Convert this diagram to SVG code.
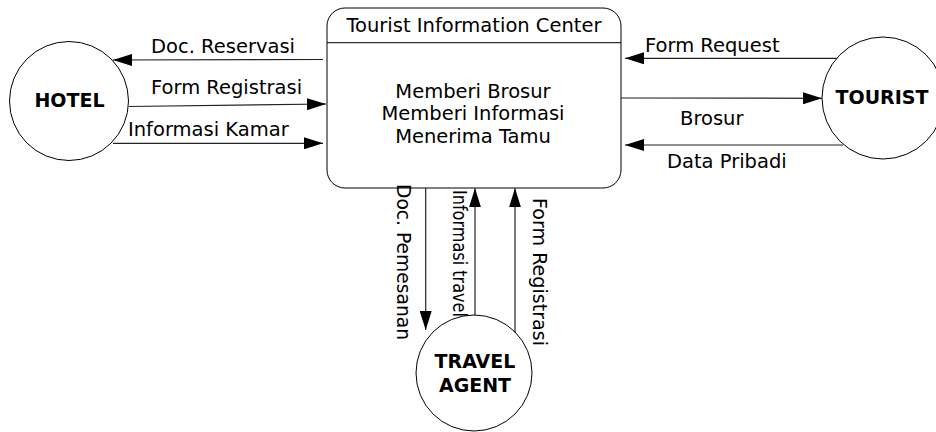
<svg xmlns="http://www.w3.org/2000/svg" width="936" height="432" viewBox="0 0 936 432">
<defs>
<marker id="arr" markerUnits="userSpaceOnUse" markerWidth="19" markerHeight="12" refX="19" refY="6" orient="auto">
<path d="M0,0 L19,6 L0,12 z" fill="#000"/>
</marker>
<style>
.t{font-family:"DejaVu Sans",Verdana,sans-serif;font-size:19.5px;fill:#000}
.b{font-family:"DejaVu Sans",Verdana,sans-serif;font-size:19px;font-weight:bold;fill:#000;text-anchor:middle}
.m{text-anchor:middle}
.c{fill:#fff;stroke:#000;stroke-width:1}
.l{fill:none;stroke:#222;stroke-width:1.2;marker-end:url(#arr)}
</style>
</defs>
<rect width="936" height="432" fill="#fff"/>
<g id="hotel">
<circle class="c" cx="69" cy="101" r="59.5"/>
<text class="b" x="69.5" y="107">HOTEL</text>
</g>
<g id="tourist">
<circle class="c" cx="883" cy="98" r="61"/>
<text class="b" x="882" y="104">TOURIST</text>
</g>
<g id="travel-agent">
<circle class="c" cx="474" cy="373" r="58"/>
<text class="b" x="475" y="368">TRAVEL</text>
<text class="b" x="475" y="392">AGENT</text>
</g>
<g id="tic">
<rect class="c" x="327" y="8" width="294" height="180" rx="18" ry="18"/>
<line x1="327" y1="42.7" x2="621" y2="42.7" stroke="#000" stroke-width="1"/>
<text class="t m" x="474" y="32">Tourist Information Center</text>
<text class="t m" x="473" y="98">Memberi Brosur</text>
<text class="t m" x="473" y="120">Memberi Informasi</text>
<text class="t m" x="473" y="143">Menerima Tamu</text>
</g>
<g id="connectors">
<line class="l" x1="323" y1="59.5" x2="113" y2="60"/>
<text class="t" x="151" y="53">Doc. Reservasi</text>
<line class="l" x1="128.7" y1="106.5" x2="326" y2="104"/>
<text class="t" x="151" y="94">Form Registrasi</text>
<line class="l" x1="113" y1="143.3" x2="323" y2="143.3"/>
<text class="t" x="128" y="136">Informasi Kamar</text>
<line class="l" x1="837" y1="58.3" x2="625" y2="58.3"/>
<text class="t" x="645" y="52">Form Request</text>
<line class="l" x1="621" y1="98" x2="822" y2="98.3"/>
<text class="t" x="680" y="125">Brosur</text>
<line class="l" x1="843" y1="145" x2="625" y2="145"/>
<text class="t" x="667" y="168">Data Pribadi</text>
<line class="l" x1="425.7" y1="188" x2="425.7" y2="330"/>
<text class="t" transform="translate(397,184) rotate(90)" textLength="156" lengthAdjust="spacingAndGlyphs">Doc. Pemesanan</text>
<line class="l" x1="475" y1="315" x2="475" y2="188.3"/>
<text class="t" transform="translate(453,190) rotate(90)" textLength="127" lengthAdjust="spacingAndGlyphs">Informasi travel</text>
<line class="l" x1="515" y1="333" x2="515" y2="188.3"/>
<text class="t" transform="translate(533,198) rotate(90)" textLength="148" lengthAdjust="spacingAndGlyphs">Form Registrasi</text>
</g>
</svg>
